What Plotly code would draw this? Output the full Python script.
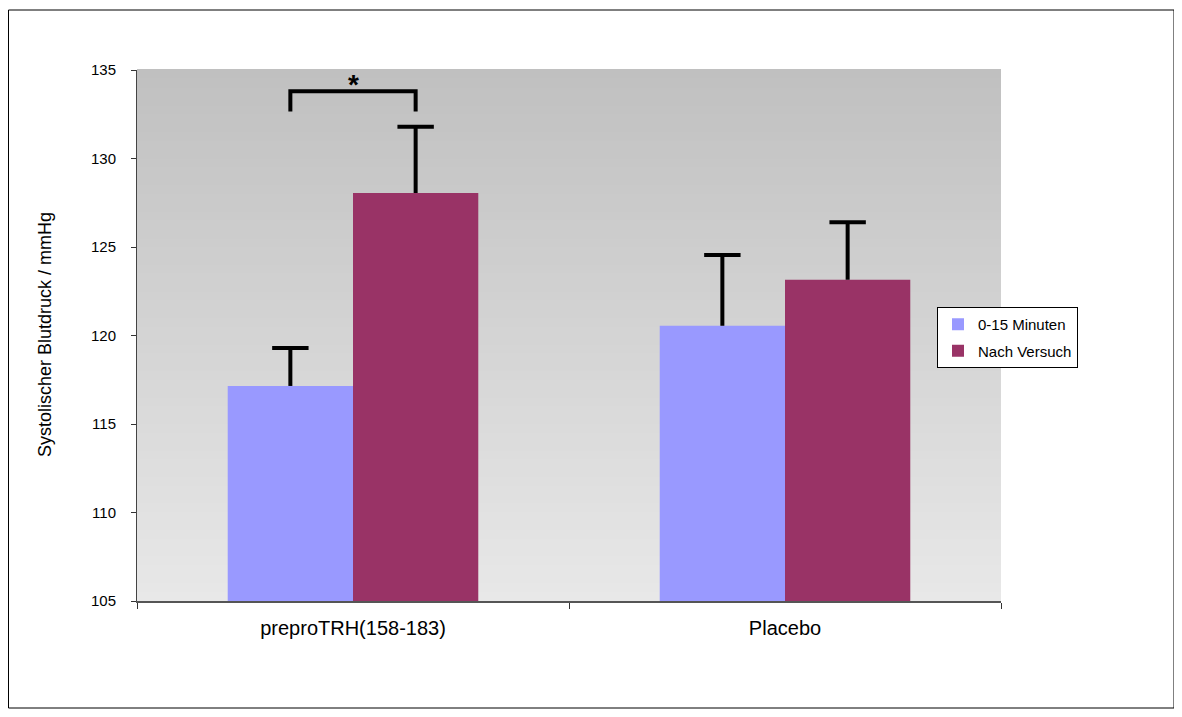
import plotly.graph_objects as go

categories = ["preproTRH(158-183)", "Placebo"]
series_names = ["0-15 Minuten", "Nach Versuch"]
values_early = [117.15, 120.55]
values_after = [128.05, 123.15]
err_early = [2.15, 4.0]
err_after = [3.75, 3.25]
colors = ["#9999ff", "#993366"]
y_ticks = [105, 110, 115, 120, 125, 130, 135]

BARGAP = 0.42
# the page body has an 8px margin; size the figure so it still fits 1182x717
OFF = 8
W, H = 1182 - OFF, 717 - OFF
L, T, R, B = 137 - OFF, 70 - OFF, 1182 - 1001, 717 - 601
PW, PH = W - L - R, H - T - B

fig = go.Figure()
for i, (name, vals, errs, col) in enumerate(zip(series_names, [values_early, values_after],
                                                [err_early, err_after], colors)):
    fig.add_trace(go.Bar(
        x=categories, y=vals, name=name, offsetgroup=str(i), legendgroup=str(i),
        marker=dict(color=col, line=dict(width=0)),
        error_y=dict(type="data", array=errs, arrayminus=[0] * len(errs),
                     symmetric=False, color="black", thickness=4, width=0),
    ))
    # caps only at the top end of the error bars
    fig.add_trace(go.Scatter(
        x=categories, y=[v + e for v, e in zip(vals, errs)], offsetgroup=str(i),
        mode="markers", showlegend=False, hoverinfo="skip",
        marker=dict(symbol="line-ew", size=26, color="black",
                    line=dict(color="black", width=4)),
    ))

# gradient background
n = 120
top, bot = 192, 232
for i in range(n):
    c = int(round(bot + (top - bot) * (i + 0.5) / n))
    fig.add_shape(type="rect", xref="x domain", yref="y domain",
                  x0=0, x1=1, y0=i / n, y1=(i + 1) / n + 0.002,
                  fillcolor=f"rgb({c},{c},{c})", line=dict(width=0), layer="below")

# significance bracket between the two bars of the first group
half = (1 - BARGAP) / 4
xl, xr = 0 - half, 0 + half
yb = values_after[0] + err_after[0] + 0.85
yt = yb + 1.15
fig.add_shape(type="path", xref="x", yref="y",
              path=f"M {xl},{yb} L {xl},{yt} L {xr},{yt} L {xr},{yb}",
              line=dict(color="black", width=4))
fig.add_annotation(x=0, y=yt, xref="x", yref="y", text="<b>*</b>", showarrow=False,
                   yanchor="middle", yshift=7, font=dict(size=28, color="black"))

# outer border
fig.add_shape(type="rect", xref="paper", yref="paper",
              x0=(8.5 - 137) / PW, x1=(1174 - 137) / PW,
              y0=(601 - 708) / PH, y1=(601 - 10) / PH,
              line=dict(color="black", width=1), fillcolor="rgba(0,0,0,0)")

fig.add_annotation(text="Systolischer Blutdruck / mmHg", xref="paper", yref="paper",
                   x=(45 - 137) / PW, y=(601 - 335) / PH, textangle=-90, showarrow=False,
                   xanchor="center", yanchor="middle",
                   font=dict(size=18, color="black"))

fig.update_layout(
    width=W, height=H,
    margin=dict(l=L, r=R, t=T, b=B, pad=0),
    paper_bgcolor="white", plot_bgcolor="rgba(0,0,0,0)",
    barmode="group", bargap=BARGAP, bargroupgap=0,
    scattermode="group", scattergap=BARGAP,
    font=dict(family="Liberation Sans, Arial, sans-serif", color="black"),
    showlegend=True,
    legend=dict(x=(937 - 137) / PW, y=(601 - 307) / PH, xanchor="left", yanchor="top",
                bgcolor="white", bordercolor="black", borderwidth=1,
                font=dict(size=15), itemwidth=30, traceorder="grouped", tracegroupgap=4),
    xaxis=dict(showgrid=False, showline=True, linecolor="#555", linewidth=2,
               ticks="outside", tickson="boundaries", ticklen=6, tickcolor="#333",
               tickfont=dict(size=20), ticklabelstandoff=8),
    yaxis=dict(range=[105, 135], tickvals=y_ticks, showgrid=False, showline=True,
               linecolor="#444", linewidth=1, ticks="outside", ticklen=5, tickcolor="#333",
               tickfont=dict(size=15), ticklabelstandoff=12, zeroline=False),
)

fig.write_html("out.html")
